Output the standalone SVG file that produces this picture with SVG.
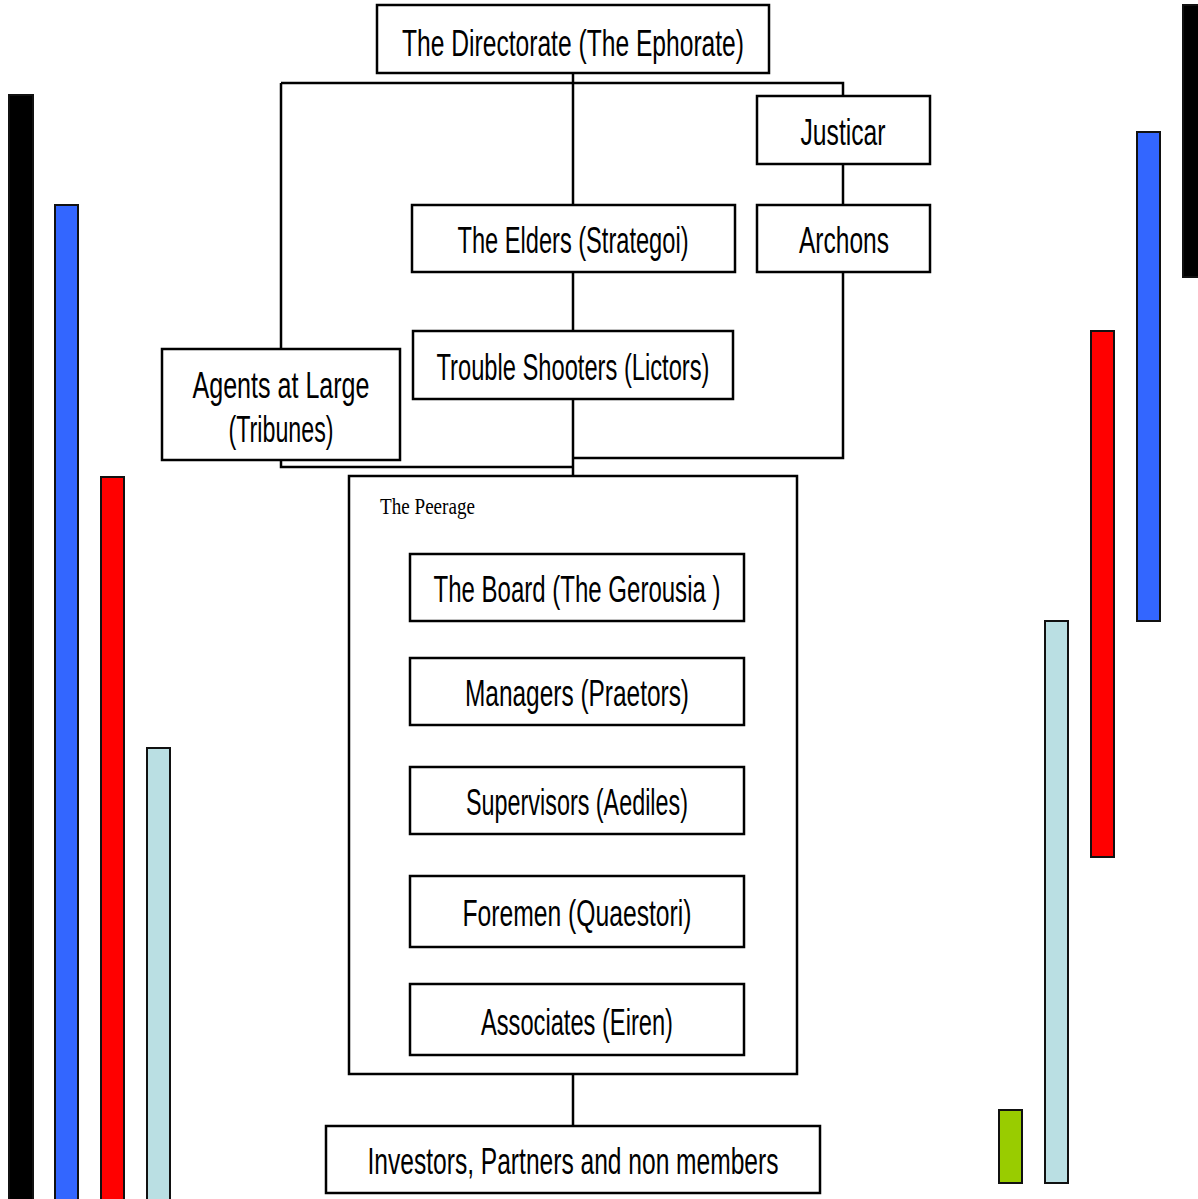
<svg xmlns="http://www.w3.org/2000/svg" width="1198" height="1199" viewBox="0 0 1198 1199">
<style>
.box{fill:#fff;stroke:#000;stroke-width:2.5}
.lbl{font-family:"Liberation Sans Narrow","Liberation Sans",sans-serif;font-size:36px;fill:#000;text-anchor:middle}
.ser{font-family:"Liberation Serif",serif;font-size:23px;fill:#000}
.con{fill:none;stroke:#000;stroke-width:2.5}
.bar{stroke:#111;stroke-width:2}
</style>
<rect width="1198" height="1199" fill="#fff"/>
<g id="bars">
<rect class="bar" x="9" y="95" width="24" height="1110" fill="#000"/>
<rect class="bar" x="55" y="205" width="23" height="1000" fill="#3366FF"/>
<rect class="bar" x="101" y="477" width="23" height="730" fill="#FF0000"/>
<rect class="bar" x="147" y="748" width="23" height="460" fill="#BADFE3"/>
<rect class="bar" x="1183" y="5" width="20" height="272" fill="#000"/>
<rect class="bar" x="1137" y="132" width="23" height="489" fill="#3366FF"/>
<rect class="bar" x="1091" y="331" width="23" height="526" fill="#FF0000"/>
<rect class="bar" x="1045" y="621" width="23" height="562" fill="#BADFE3"/>
<rect class="bar" x="999" y="1110" width="23" height="73" fill="#99CC00"/>
</g>
<g id="connectors">
<path class="con" d="M573 73V83M281 83H843V96M281 83V349M573 83V205M843 164V205M573 272V331M573 399V476M843 272V458H573M281 460V467H573"/>
<path class="con" d="M577 621V658M577 725V767M577 834V876M577 947V984M573 1074V1126"/>
</g>
<g id="directorate"><rect class="box" x="377" y="5" width="392" height="68"/><text class="lbl" x="573" y="56" textLength="342" lengthAdjust="spacingAndGlyphs">The Directorate (The Ephorate)</text></g>
<g id="justicar"><rect class="box" x="757" y="96" width="173" height="68"/><text class="lbl" x="843" y="145" textLength="85" lengthAdjust="spacingAndGlyphs">Justicar</text></g>
<g id="archons"><rect class="box" x="757" y="205" width="173" height="67"/><text class="lbl" x="844" y="253" textLength="90" lengthAdjust="spacingAndGlyphs">Archons</text></g>
<g id="elders"><rect class="box" x="412" y="205" width="323" height="67"/><text class="lbl" x="573" y="253" textLength="231" lengthAdjust="spacingAndGlyphs">The Elders (Strategoi)</text></g>
<g id="troubleshooters"><rect class="box" x="413" y="331" width="320" height="68"/><text class="lbl" x="573" y="380" textLength="273" lengthAdjust="spacingAndGlyphs">Trouble Shooters (Lictors)</text></g>
<g id="agents"><rect class="box" x="162" y="349" width="238" height="111"/><text class="lbl" x="281" y="398" textLength="177" lengthAdjust="spacingAndGlyphs">Agents at Large</text><text class="lbl" x="281" y="442" textLength="105" lengthAdjust="spacingAndGlyphs">(Tribunes)</text></g>
<g id="peerage"><rect class="box" fill="none" x="349" y="476" width="448" height="598"/><text class="ser" x="380" y="514" textLength="95" lengthAdjust="spacingAndGlyphs">The Peerage</text></g>
<g id="board"><rect class="box" x="410" y="554" width="334" height="67"/><text class="lbl" x="577" y="602" textLength="287" lengthAdjust="spacingAndGlyphs">The Board (The Gerousia )</text></g>
<g id="managers"><rect class="box" x="410" y="658" width="334" height="67"/><text class="lbl" x="577" y="706" textLength="224" lengthAdjust="spacingAndGlyphs">Managers (Praetors)</text></g>
<g id="supervisors"><rect class="box" x="410" y="767" width="334" height="67"/><text class="lbl" x="577" y="815" textLength="222" lengthAdjust="spacingAndGlyphs">Supervisors (Aediles)</text></g>
<g id="foremen"><rect class="box" x="410" y="876" width="334" height="71"/><text class="lbl" x="577" y="926" textLength="229" lengthAdjust="spacingAndGlyphs">Foremen (Quaestori)</text></g>
<g id="associates"><rect class="box" x="410" y="984" width="334" height="71"/><text class="lbl" x="577" y="1035" textLength="192" lengthAdjust="spacingAndGlyphs">Associates (Eiren)</text></g>
<g id="investors"><rect class="box" x="326" y="1126" width="494" height="67"/><text class="lbl" x="573" y="1174" textLength="411" lengthAdjust="spacingAndGlyphs">Investors, Partners and non members</text></g>
</svg>
